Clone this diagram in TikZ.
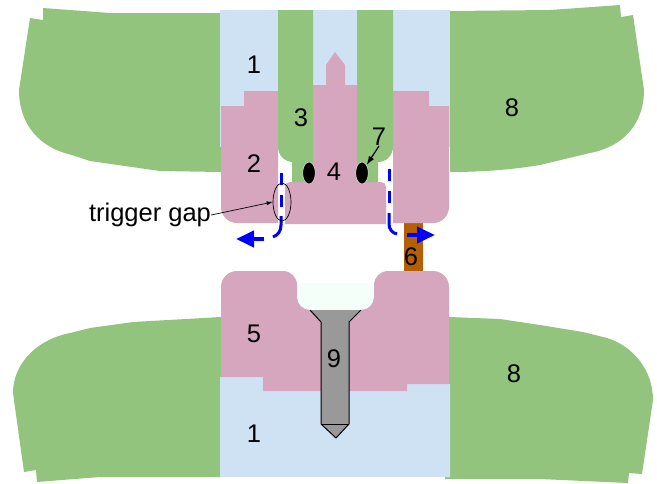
\documentclass[tikz,border=0pt]{standalone}
\usepackage{fontspec}
\setmainfont{Liberation Sans}
\usetikzlibrary{arrows.meta, positioning, shapes.geometric}
\definecolor{PlateGreen}{HTML}{93C47D}
\definecolor{CoreBlue}{HTML}{CFE2F3}
\definecolor{RingPink}{HTML}{D5A6BD}
\definecolor{SpacerBrown}{HTML}{B45F06}
\definecolor{BoltGray}{HTML}{999999}
\definecolor{PitMint}{HTML}{F5FFFA}
\tikzset{%
  plate/.style={%
    fill=PlateGreen,%
  },
  core/.style={%
    fill=CoreBlue,%
  },
  ring/.style={%
    fill=RingPink,%
  },
  part_label/.style={%
    inner sep=0pt,%
    font={\fontsize{25.5}{30}\selectfont},%
  },
  seal/.style={%
    ellipse,%
    fill=black,%
    draw=white,%
    line width=0.4pt,%
    inner sep=0pt,%
    minimum width=12.5pt,%
    minimum height=22pt,%
  },
  gap_mark/.style={%
    ellipse,%
    draw=black,%
    line width=0.7pt,%
    inner sep=0pt,%
    minimum width=18pt,%
    minimum height=38pt,%
  },
  gas_path/.style={%
    draw=blue,%
    line width=3pt,%
  },
  gas_dash/.style={%
    gas_path,%
    dash pattern=on 12pt off 10pt,%
  },
  flow_arrow/.style={%
    draw=blue,%
    line width=4pt,%
    -{Triangle[length=18pt, width=16pt, fill=blue]},%
  },
  leader/.style={%
    line width=0.7pt,%
    -{Latex[length=6pt, width=4pt]},%
  },
  leader_thick/.style={%
    line width=1.2pt,%
    -{Latex[length=9pt, width=6pt]},%
  },
}

\begin{document}
\begin{tikzpicture}[x=1pt, y=-1pt]
    \useasboundingbox (0,0) rectangle (657,483);

    % outer plates
    \fill [plate]
      (43,8) -- (110,13) -- (221,13) -- (221,172) -- (160,171) -- (90,161) -- (72,155)
      .. controls (40,148) and (19,125) .. (19,90)
      -- (30,18) -- (43,20) -- cycle;
    \fill [plate]
      (450,11) -- (550,10) -- (620,5) -- (621,17) -- (633,15) -- (644,90)
      .. controls (644,125) and (622,147) .. (590,153)
      -- (540,165) .. controls (510,170) and (480,172) .. (450,172) -- cycle;
    \fill [plate]
      (221,317) -- (133,322) -- (90,328) -- (70,333)
      .. controls (35,340) and (13,365) .. (13,393)
      -- (24,472) -- (36,470) -- (37,482) -- (100,477) -- (221,477) -- cycle;
    \fill [plate]
      (449,317) -- (500,319) -- (540,325) -- (583,332) -- (607,338)
      .. controls (633,346) and (653,370) .. (653,400)
      -- (642,474) -- (629,473) -- (628,483) -- (540,479) -- (445,479) -- (445,470) -- (449,470) -- cycle;

    % upper and lower cores
    \fill [core] (220,10) rectangle (450,147);
    \fill [core] (220,377) -- (300,377) -- (300,384) -- (450,384) -- (450,477) -- (220,477) -- cycle;

    % spacer and pit
    \fill [fill=SpacerBrown] (404,223) rectangle (423,272);
    \fill [fill=PitMint] (297,283) rectangle (374,311);

    % upper rings
    \fill [ring]
      (221,106) -- (244,106) -- (244,91) -- (278,91) -- (278,223)
      [rounded corners=16pt] -- (221,223) [sharp corners] -- (221,106) -- cycle;
    \fill [ring]
      (393,91) -- (429,91) -- (429,106) -- (449,106)
      [rounded corners=16pt] -- (449,223) [sharp corners] -- (393,223) -- cycle;
    \fill [ring]
      (313,85) -- (326,85) -- (326,65) -- (335,52) -- (345,65) -- (345,85) -- (357,85) -- (357,182)
      [rounded corners=5pt] -- (386,182) [sharp corners] -- (386,224) -- (285,224)
      [rounded corners=5pt] -- (285,182) [sharp corners] -- (313,182) -- cycle;

    % lower ring
    \fill [ring]
      (221,377) [rounded corners=16pt] -- (221,271) [rounded corners=14pt] -- (297,271)
      [rounded corners=13pt] -- (297,310) -- (374,310) [rounded corners=14pt] -- (374,271)
      [rounded corners=16pt] -- (449,271) [sharp corners] -- (449,384) -- (407,384) -- (407,391)
      -- (263,391) -- (263,377) -- cycle;

    % inner plates
    \fill [plate]
      (278,10) -- (313,10) -- (313,182) -- (292,182) -- (292,162)
      [rounded corners=15pt] -- (278,162) [sharp corners] -- cycle;
    \fill [plate]
      (357,10) -- (393,10) [rounded corners=15pt] -- (393,162) [sharp corners] -- (378,162) -- (378,182)
      -- (357,182) -- cycle;

    % bolt
    \fill [fill=BoltGray]
      (310,310) -- (361,310) -- (349,322) -- (349,424) -- (336,438) -- (321,424) -- (321,322) -- cycle;
    \draw [line width=1pt, line join=round]
      (310,310) -- (321,322) -- (321,424) -- (336,438) -- (349,424) -- (349,322) -- (361,310);
    \draw [line width=1pt] (321,424) -- (349,424);

    % gas paths
    \draw [gas_dash] (281,173) -- (281,207);
    \draw [gas_path] (281,216) -- (281,225) .. controls (281,231) and (278,235) .. (273,237);
    \draw [gas_dash] (389,169) -- (389,203);
    \draw [gas_path] (389,213) -- (389,224) .. controls (389,229) and (392,233) .. (397,234);

    \coordinate (left_tail) at (264,239);
    \coordinate (left_tip) at (236,239);
    \coordinate (right_tail) at (407,235);
    \coordinate (right_tip) at (435,235);
    \draw [flow_arrow] (left_tail) -- (left_tip);
    \draw [flow_arrow] (right_tail) -- (right_tip);

    % seals
    \node [seal] (SealLeft) at (309,173) {};
    \node [seal] (SealRight) at (362,173) {};
    \node [gap_mark] (TriggerGap) at (282,202) {};

    % labels
    \node [part_label] (Core1) at (254,65) {1};
    \node [part_label] (Ring2) at (254,164) {2};
    \node [part_label] (Plate3) at (301,118) {3};
    \node [part_label] (Stem4) at (334,172) {4};
    \node [part_label] (Ring5) at (254,334) {5};
    \node [part_label] (Spacer6) at (411,257) {6};
    \node [part_label] (Seal7) at (379,137) {7};
    \node [part_label] (Plate8a) at (512,108) {8};
    \node [part_label] (Plate8b) at (514,374) {8};
    \node [part_label] (Bolt9) at (334,359) {9};
    \node [part_label] (Core1b) at (254,434) {1};
    \node [part_label] (TriggerLabel) at (150,215) {trigger gap};

    \draw [leader] (TriggerLabel.east) -- (TriggerGap.west);
    \draw [leader_thick] (Seal7.south) -- (SealRight.north east);
  \end{tikzpicture}
\end{document}
